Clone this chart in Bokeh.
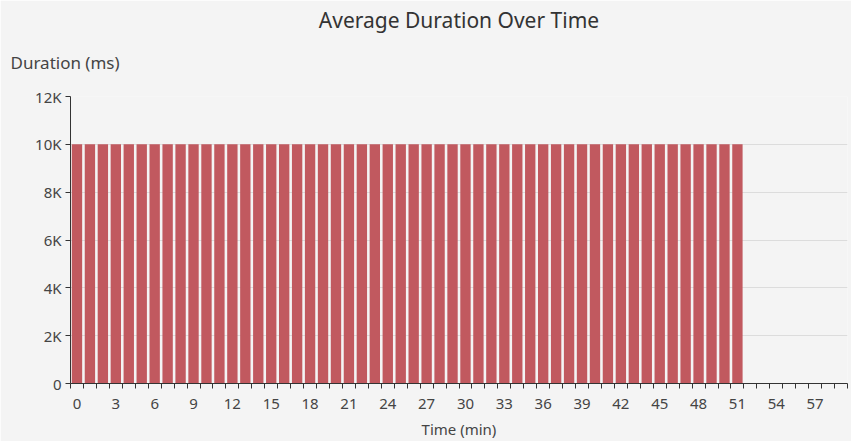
from bokeh.plotting import figure
from bokeh.models import FixedTicker, Title
from bokeh.embed import file_html
from bokeh.resources import INLINE

# ---- data ----
time_min = [0, 1, 2, 3, 4, 5, 6, 7, 8, 9, 10, 11, 12, 13, 14, 15, 16, 17, 18, 19,
            20, 21, 22, 23, 24, 25, 26, 27, 28, 29, 30, 31, 32, 33, 34, 35, 36, 37, 38, 39,
            40, 41, 42, 43, 44, 45, 46, 47, 48, 49, 50, 51, 52, 53, 54, 55, 56, 57, 58, 59]
duration_ms = [10000, 10000, 10000, 10000, 10000, 10000, 10000, 10000, 10000, 10000,
               10000, 10000, 10000, 10000, 10000, 10000, 10000, 10000, 10000, 10000,
               10000, 10000, 10000, 10000, 10000, 10000, 10000, 10000, 10000, 10000,
               10000, 10000, 10000, 10000, 10000, 10000, 10000, 10000, 10000, 10000,
               10000, 10000, 10000, 10000, 10000, 10000, 10000, 10000, 10000, 10000,
               10000, 10000, None, None, None, None, None, None, None, None]
x_tick_values = [0, 3, 6, 9, 12, 15, 18, 21, 24, 27, 30, 33, 36, 39, 42, 45, 48, 51, 54, 57]
y_tick_values = [0, 2000, 4000, 6000, 8000, 10000, 12000]
y_tick_labels = ["0", "2K", "4K", "6K", "8K", "10K", "12K"]

BG = "#f4f4f4"
BAR = "#c1595f"
TXT = "#444444"
FONT = "Noto Sans"

p = figure(width=851, height=441, output_backend="svg", toolbar_location=None,
           x_range=(-0.5, 59.5), y_range=(0, 12000),
           min_border_left=70, min_border_right=4, min_border_bottom=58, min_border_top=0)
p.background_fill_color = BG
p.border_fill_color = BG
p.outline_line_color = None

xs = [t for t, d in zip(time_min, duration_ms) if d is not None]
ys = [d for d in duration_ms if d is not None]
p.vbar(x=xs, top=ys, width=0.8, fill_color=BAR, line_color=None)

# titles (spacer nearest the frame, then the axis caption, then the chart title)
spacer = Title(text=" ", text_font_size="1px", standoff=9)
p.add_layout(spacer, "above")
sub = Title(text="Duration (ms)", align="left", offset=-60, text_font=FONT,
            text_font_size="17px", text_font_style="normal", text_color=TXT, standoff=22)
p.add_layout(sub, "above")
main = Title(text="Average Duration Over Time", align="center", text_font=FONT,
             text_font_size="21px", text_font_style="normal", text_color="#333333",
             standoff=7)
p.add_layout(main, "above")

# x axis
xa = p.xaxis[0]
xa.ticker = FixedTicker(ticks=x_tick_values,
                        minor_ticks=[i - 0.5 for i in time_min] + [59.5])
xa.major_tick_out = 0
xa.major_tick_in = 0
xa.minor_tick_out = 5
xa.minor_tick_in = 0
xa.minor_tick_line_color = "#333333"
xa.axis_line_color = "#333333"
xa.major_label_text_font = FONT
xa.major_label_text_font_size = "15px"
xa.major_label_text_color = TXT
xa.major_label_standoff = 10
xa.axis_label = "Time (min)"
xa.axis_label_text_font = FONT
xa.axis_label_text_font_size = "15px"
xa.axis_label_text_font_style = "normal"
xa.axis_label_text_color = TXT
xa.axis_label_standoff = 7

# y axis
ya = p.yaxis[0]
ya.ticker = FixedTicker(ticks=y_tick_values)
ya.major_label_overrides = {v: s for v, s in zip(y_tick_values, y_tick_labels)}
ya.major_tick_out = 5
ya.major_tick_in = 0
ya.minor_tick_line_color = None
ya.major_tick_line_color = "#333333"
ya.axis_line_color = "#333333"
ya.major_label_text_font = FONT
ya.major_label_text_font_size = "15px"
ya.major_label_text_color = TXT
ya.major_label_standoff = 4

p.xgrid.grid_line_color = None
p.ygrid.grid_line_color = "#dcdcdc"

open("out.html", "w").write(file_html(p, INLINE))
